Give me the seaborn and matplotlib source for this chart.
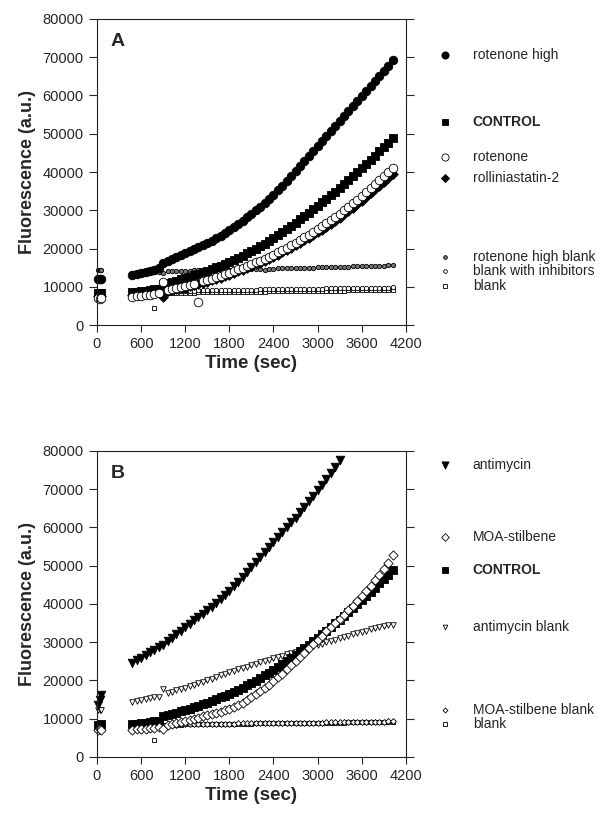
import matplotlib
matplotlib.use('Agg')
import matplotlib.pyplot as plt
import seaborn as sns

# tempos (s) das leituras
t_early = [20, 40, 60]
t_main = [480, 540, 600, 660, 720, 780, 840, 900, 960, 1020,
          1080, 1140, 1200, 1260, 1320, 1380, 1440, 1500, 1560, 1620,
          1680, 1740, 1800, 1860, 1920, 1980, 2040, 2100, 2160, 2220,
          2280, 2340, 2400, 2460, 2520, 2580, 2640, 2700, 2760, 2820,
          2880, 2940, 3000, 3060, 3120, 3180, 3240, 3300, 3360, 3420,
          3480, 3540, 3600, 3660, 3720, 3780, 3840, 3900, 3960, 4020]

# painel A
rot_high_early = [11900, 12000, 12100]
rot_high = [13100, 13350, 13600, 13850, 14150, 14450, 14800, 16200, 16700, 17200,
            17700, 18200, 18700, 19250, 19800, 20350, 20900, 21450, 22050, 22700,
            23400, 24100, 24850, 25650, 26450, 27300, 28150, 29050, 29950, 30950,
            31950, 33000, 34100, 35200, 36450, 37750, 39050, 40350, 41650, 42950,
            44250, 45550, 46850, 48150, 49450, 50750, 52050, 53350, 54700, 56000,
            57300, 58600, 59900, 61200, 62500, 63850, 65150, 66450, 67800, 69200]

control_early = [8400, 8300, 8500]
control = [8600, 8700, 8800, 8950, 9100, 9300, 9500, 10600, 10900, 11200,
           11550, 11900, 12250, 12600, 13000, 13400, 13800, 14200, 14650, 15100,
           15550, 16000, 16500, 17000, 17550, 18100, 18700, 19300, 19950, 20600,
           21300, 22000, 22750, 23500, 24300, 25100, 25900, 26750, 27600, 28450,
           29350, 30250, 31150, 32050, 33000, 33950, 34900, 35900, 36900, 37900,
           38950, 40000, 41050, 42100, 43200, 44300, 45400, 46500, 47650, 48800]

rotenone_early = [7000, 6900, 7100]
rotenone = [7400, 7500, 7650, 7800, 7950, 8100, 8300, 11300, 9200, 9450,
            9700, 9950, 10200, 10500, 10800, 6100, 11450, 11800, 12150, 12500,
            12900, 13300, 13700, 14100, 14550, 15000, 15450, 15900, 16350, 16800,
            17300, 17850, 18400, 19000, 19600, 20250, 20900, 21550, 22200, 22900,
            23600, 24300, 25000, 25800, 26600, 27400, 28250, 29100, 30000, 30900,
            31850, 32800, 33800, 34850, 35850, 36850, 37850, 38900, 39950, 40950]

rollin_early = [7600, 7500, 7700]
rollin = [7900, 8000, 8100, 8250, 8400, 8550, 8700, 7400, 8900, 9100,
          9300, 9550, 9800, 10100, 10400, 10700, 11000, 11350, 11700, 12050,
          12400, 12800, 13200, 13600, 14050, 14500, 14950, 15400, 15850, 16300,
          16800, 17300, 17850, 18400, 19000, 19600, 20200, 20850, 21500, 22150,
          22800, 23500, 24200, 24950, 25700, 26500, 27300, 28100, 28950, 29800,
          30700, 31600, 32550, 33500, 34450, 35450, 36450, 37450, 38450, 39500]

rhb_early = [14400, 14500, 14400]
rot_high_blank = [13600, 13700, 13750, 13800, 13850, 13900, 13950, 13500, 14100, 14150,
                  14200, 14200, 14250, 14250, 14300, 14300, 14350, 14350, 14400, 14400,
                  14450, 14450, 14500, 14500, 14550, 14600, 14600, 14650, 14650, 14550,
                  14400, 14600, 14750, 14800, 14850, 14850, 14900, 14900, 14950, 14950,
                  15000, 15000, 15050, 15050, 15100, 15100, 15150, 15200, 15200, 15250,
                  15300, 15300, 15350, 15400, 15400, 15450, 15500, 15550, 15600, 15650]

inhib_early = [8300, 8200, 8400]
blank_inhib = [8700, 8750, 8750, 8800, 8800, 8850, 8850, 9700, 8900, 8900,
               8950, 8950, 9000, 9000, 9000, 9050, 9050, 9100, 9100, 9100,
               9150, 9150, 9150, 9200, 9200, 9200, 9250, 9250, 9250, 9300,
               9300, 9300, 9350, 9350, 9350, 9400, 9400, 9400, 9450, 9450,
               9450, 9500, 9500, 9500, 9550, 9550, 9550, 9600, 9600, 9600,
               9650, 9650, 9650, 9700, 9700, 9750, 9750, 9800, 9800, 9850]

blank_early = [7800, 7900, 7800]
blank = [8200, 8250, 8250, 8300, 8300, 4400, 8350, 8400, 8400, 8450,
         8450, 8450, 8500, 8500, 8500, 8550, 8550, 8550, 8600, 8600,
         8600, 8650, 8650, 8650, 8700, 8700, 8700, 8700, 8750, 8750,
         8750, 8800, 8800, 8800, 8800, 8850, 8850, 8850, 8900, 8900,
         8900, 8900, 8950, 8950, 8950, 9000, 9000, 9000, 9000, 9050,
         9050, 9050, 9100, 9100, 9100, 9150, 9150, 9150, 9200, 9200]

# painel B
antimycin_early = [13600, 14800, 16200]
antimycin = [24600, 25300, 26000, 26700, 27400, 28000, 28700, 29400, 30300, 31200,
             32100, 33000, 33900, 34800, 35700, 36600, 37500, 38400, 39300, 40300,
             41300, 42400, 43500, 44600, 45800, 47000, 48300, 49600, 50900, 52200,
             53500, 54800, 56100, 57400, 58700, 60000, 61300, 62600, 64000, 65400,
             66800, 68200, 69700, 71200, 72700, 74300, 75900, 77600]

moa_early = [7000, 7200, 7100]
moa = [7100, 7200, 7300, 7400, 7500, 7650, 7800, 7200, 8300, 8600,
       8900, 9200, 9450, 9700, 10000, 10300, 10600, 10900, 11200, 11500,
       11800, 12200, 12600, 13100, 13600, 14200, 14900, 15600, 16400, 17200,
       18000, 18900, 19800, 20800, 21800, 22900, 24000, 25100, 26200, 27300,
       28400, 29500, 30600, 31700, 32800, 33900, 35000, 36100, 37200, 38300,
       39500, 40800, 42100, 43400, 44800, 46200, 47600, 49100, 50800, 52700]

amb_early = [12300, 12200, 12300]
antimycin_blank = [14400, 14600, 14800, 15050, 15300, 15550, 15800, 17800, 16700, 17100,
                   17450, 17800, 18150, 18500, 18900, 19300, 19700, 20100, 20500, 20900,
                   21300, 21700, 22100, 22500, 22900, 23300, 23650, 24000, 24350, 24700,
                   25050, 25400, 25750, 26100, 26450, 26800, 27150, 27500, 27850, 28200,
                   28550, 28900, 29250, 29600, 29950, 30300, 30650, 31000, 31350, 31700,
                   32050, 32400, 32750, 33050, 33350, 33650, 33950, 34200, 34400, 34600]

moab_early = [8000, 7800, 8100]
moa_blank = [8000, 8100, 8100, 8200, 8200, 8250, 8300, 7900, 8400, 8450,
             8450, 8500, 8500, 8550, 8550, 8600, 8600, 8600, 8650, 8650,
             8650, 8700, 8700, 8700, 8750, 8750, 8750, 8800, 8800, 8800,
             8800, 8850, 8850, 8850, 8900, 8900, 8900, 8900, 8950, 8950,
             8950, 9000, 9000, 9000, 9050, 9050, 9050, 9100, 9100, 9100,
             9150, 9150, 9150, 9200, 9200, 9200, 9250, 9250, 9300, 9300]

# legendas (texto, posição vertical em unidades do eixo y)
legend_a = [('rotenone high', 70600), ('CONTROL', 53100), ('rotenone', 43900),
            ('rolliniastatin-2', 38400), ('rotenone high blank', 17800),
            ('blank with inhibitors', 14100), ('blank', 10200)]
legend_b = [('antimycin', 76300), ('MOA-stilbene', 57500), ('CONTROL', 48900),
            ('antimycin blank', 34000), ('MOA-stilbene blank', 12300), ('blank', 8600)]

sns.set_style('ticks')
plt.rcParams['font.family'] = ['Liberation Sans', 'DejaVu Sans']

# estilos dos marcadores
BIG = 38
SMALL = 10
styles = {
    'rotenone high': dict(marker='o', s=BIG, facecolor='black'),
    'CONTROL': dict(marker='s', s=32, facecolor='black'),
    'rotenone': dict(marker='o', s=BIG, facecolor='white'),
    'rolliniastatin-2': dict(marker='D', s=24, facecolor='black'),
    'rotenone high blank': dict(marker='o', s=SMALL, facecolor='#777777'),
    'blank with inhibitors': dict(marker='o', s=SMALL, facecolor='white'),
    'blank': dict(marker='s', s=SMALL, facecolor='white'),
    'antimycin': dict(marker='v', s=BIG, facecolor='black'),
    'MOA-stilbene': dict(marker='D', s=22, facecolor='white'),
    'antimycin blank': dict(marker='v', s=16, facecolor='white'),
    'MOA-stilbene blank': dict(marker='D', s=9, facecolor='white'),
}


def draw(ax, name, t, v, z=2):
    st = styles[name]
    sns.scatterplot(x=t, y=v, ax=ax, marker=st['marker'], s=st['s'],
                    facecolor=st['facecolor'], edgecolor='black', linewidth=0.6,
                    clip_on=False, zorder=z, legend=False)


def side_legend(ax, entries):
    tr = ax.get_yaxis_transform()
    for name, y in entries:
        st = styles[name]
        ax.scatter([1.126], [y], transform=tr, marker=st['marker'], s=st['s'] * 0.7,
                   facecolor=st['facecolor'], edgecolor='black', linewidth=0.6,
                   clip_on=False)
        ax.text(1.217, y, name, transform=tr, va='center', ha='left', fontsize=10,
                fontweight='bold' if name == 'CONTROL' else 'normal')


def style_axes(ax, letter):
    ax.set_xlim(0, 4200)
    ax.set_ylim(0, 80000)
    ax.set_xticks(range(0, 4201, 600))
    ax.set_yticks(range(0, 80001, 10000))
    ax.tick_params(axis='y', left=True, right=True, labelright=False,
                   direction='out', length=6, width=0.8, labelsize=10.5)
    ax.tick_params(axis='x', bottom=True, top=False, direction='out',
                   length=5, width=0.8, labelsize=10.5)
    for sp in ax.spines.values():
        sp.set_linewidth(0.8)
        sp.set_color('#222222')
    ax.set_xlabel('Time (sec)', fontsize=13.5, fontweight='bold', labelpad=3)
    ax.set_ylabel('Fluorescence (a.u.)', fontsize=13, fontweight='bold', labelpad=5)
    ax.text(0.045, 0.925, letter, transform=ax.transAxes, fontsize=14,
            fontweight='bold', va='center')


fig = plt.figure(figsize=(6.08, 8.15), dpi=100)
ax_a = fig.add_axes([0.1595, 0.6012, 0.508, 0.3755])
ax_b = fig.add_axes([0.1595, 0.0712, 0.508, 0.3755])

# A
for name, te, ve, tm, vm in [
        ('blank', t_early, blank_early, t_main, blank),
        ('blank with inhibitors', t_early, inhib_early, t_main, blank_inhib),
        ('rotenone high blank', t_early, rhb_early, t_main, rot_high_blank),
        ('CONTROL', t_early, control_early, t_main, control),
        ('rolliniastatin-2', t_early, rollin_early, t_main, rollin),
        ('rotenone', t_early, rotenone_early, t_main, rotenone),
        ('rotenone high', t_early, rot_high_early, t_main, rot_high)]:
    draw(ax_a, name, te + tm, ve + vm)
style_axes(ax_a, 'A')
side_legend(ax_a, legend_a)

# B
for name, te, ve, tm, vm in [
        ('blank', t_early, blank_early, t_main, blank),
        ('MOA-stilbene blank', t_early, moab_early, t_main, moa_blank),
        ('antimycin blank', t_early, amb_early, t_main, antimycin_blank),
        ('CONTROL', t_early, control_early, t_main, control),
        ('MOA-stilbene', t_early, moa_early, t_main, moa),
        ('antimycin', t_early, antimycin_early, t_main[:len(antimycin)], antimycin)]:
    draw(ax_b, name, te + tm, ve + vm)
style_axes(ax_b, 'B')
side_legend(ax_b, legend_b)

fig.savefig('out.png', dpi=100)
